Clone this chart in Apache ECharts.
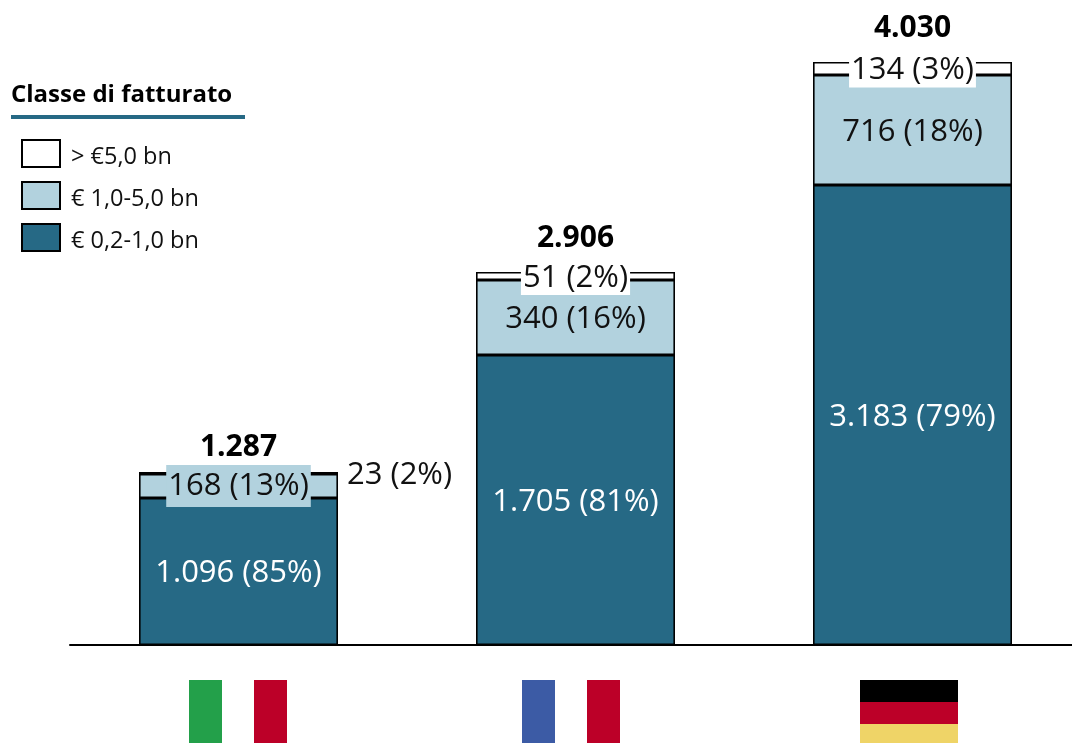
<!DOCTYPE html>
<html>
<head>
<meta charset="utf-8">
<style>html,body{margin:0;padding:0;background:#fff}#c{width:1072px;height:743px}</style>
<script src="https://cdn.jsdelivr.net/npm/echarts@6/dist/echarts.min.js"></script>
</head>
<body>
<div id="c"></div>
<script>
const categories = ['Italia', 'Francia', 'Germania'];
const legendNames = ['> €5,0 bn', '€ 1,0-5,0 bn', '€ 0,2-1,0 bn'];
// The source's bars are not drawn to one scale, so these are the drawn heights read off the picture...
const lowBand = [1029, 2030, 3220];
const midBand = [168, 525, 770];
const highBand = [14, 56, 91];
// ...and these are the figures printed on it.
const lowText = ['1.096 (85%)', '1.705 (81%)', '3.183 (79%)'];
const midText = ['168 (13%)', '340 (16%)', '716 (18%)'];
const highText = ['23 (2%)', '51 (2%)', '134 (3%)'];
const totalText = ['1.287', '2.906', '4.030'];
const axisMax = 4081;

const FONT = '"Open Sans", sans-serif';
const DARK = '#266985', LIGHT = '#B2D2DE';
const border = {borderColor: '#000', borderWidth: 1.6};

function bar(name, values, color, labelFor) {
  return {
    name, type: 'bar', stack: 'a', barWidth: 199,
    itemStyle: Object.assign({color}, border),
    emphasis: {disabled: true},
    data: values.map((v, i) => ({value: v, label: labelFor(i)}))
  };
}
const base = {show: true, fontFamily: FONT, fontSize: 31, color: '#111', offset: [0, 2]};

function rect(x, y, w, h, fill) {
  return {type: 'rect', silent: true, shape: {x, y, width: w, height: h}, style: {fill}};
}
const flags = [
  rect(189, 680, 33, 63, '#23A04A'), rect(254, 680, 33, 63, '#BC0028'),
  rect(522, 680, 33, 63, '#3C5BA5'), rect(587, 680, 33, 63, '#BC0028'),
  rect(860, 680, 98, 22, '#000000'), rect(860, 702, 98, 22, '#BC0028'), rect(860, 724, 98, 19, '#EFD467')
];

const option = {
  animation: false,
  backgroundColor: '#fff',
  textStyle: {fontFamily: FONT},
  title: {
    text: 'Classe di fatturato', left: 6, top: 78,
    textStyle: {fontFamily: FONT, fontSize: 24, fontWeight: 'bold', color: '#000'}
  },
  legend: {
    orient: 'vertical', left: 21, top: 139, padding: 0, itemWidth: 38, itemHeight: 27, itemGap: 11.5,
    icon: 'rect',
    data: legendNames, selectedMode: false,
    formatter: name => '{t|' + name + '}',
    textStyle: {
      fontFamily: FONT, fontSize: 23.5, color: '#111', padding: [0, 0, 0, 6],
      rich: {t: {fontFamily: FONT, fontSize: 23.5, color: '#111', padding: [8, 0, 0, 0]}}
    },
    itemStyle: {borderColor: '#000', borderWidth: 2}
  },
  grid: {left: 70, right: -9, top: 62, bottom: 98, outerBoundsMode: 'none'},
  xAxis: {
    type: 'category', data: categories,
    axisLine: {lineStyle: {color: '#000', width: 2}},
    axisTick: {show: false}, axisLabel: {show: false}
  },
  yAxis: {type: 'value', min: 0, max: axisMax, show: false, splitLine: {show: false}},
  series: [
    bar(legendNames[2], lowBand, DARK, i => Object.assign({}, base, {position: 'inside', color: '#fff', formatter: lowText[i]})),
    bar(legendNames[1], midBand, LIGHT, i => Object.assign({}, base, {
      position: 'inside', formatter: midText[i],
      backgroundColor: i === 0 ? LIGHT : 'transparent',
      padding: i === 0 ? [4, 2, 0, 2] : 0, lineHeight: i === 0 ? 38 : 34, offset: i === 0 ? [0, 0] : [0, 2]
    })),
    bar(legendNames[0], highBand, '#fff', i => i === 0
      ? Object.assign({}, base, {position: 'right', distance: 9, formatter: highText[i]})
      : Object.assign({}, base, {position: 'inside', formatter: highText[i], backgroundColor: '#fff', padding: [0, 2], lineHeight: 34})),
    {
      type: 'scatter', symbolSize: 0, silent: true, z: 5,
      itemStyle: {opacity: 1},
      data: categories.map((c, i) => ({
        value: [c, lowBand[i] + midBand[i] + highBand[i]],
        label: {
          show: true, position: 'top', distance: i === 0 ? 10 : 19,
          fontFamily: FONT, fontSize: 30, fontWeight: 'bold', color: '#000', formatter: totalText[i]
        }
      }))
    }
  ],
  graphic: [rect(11, 115, 234, 4, DARK)].concat(flags)
};
const chart = echarts.init(document.getElementById('c'));
chart.setOption(option);
</script>
</body>
</html>
